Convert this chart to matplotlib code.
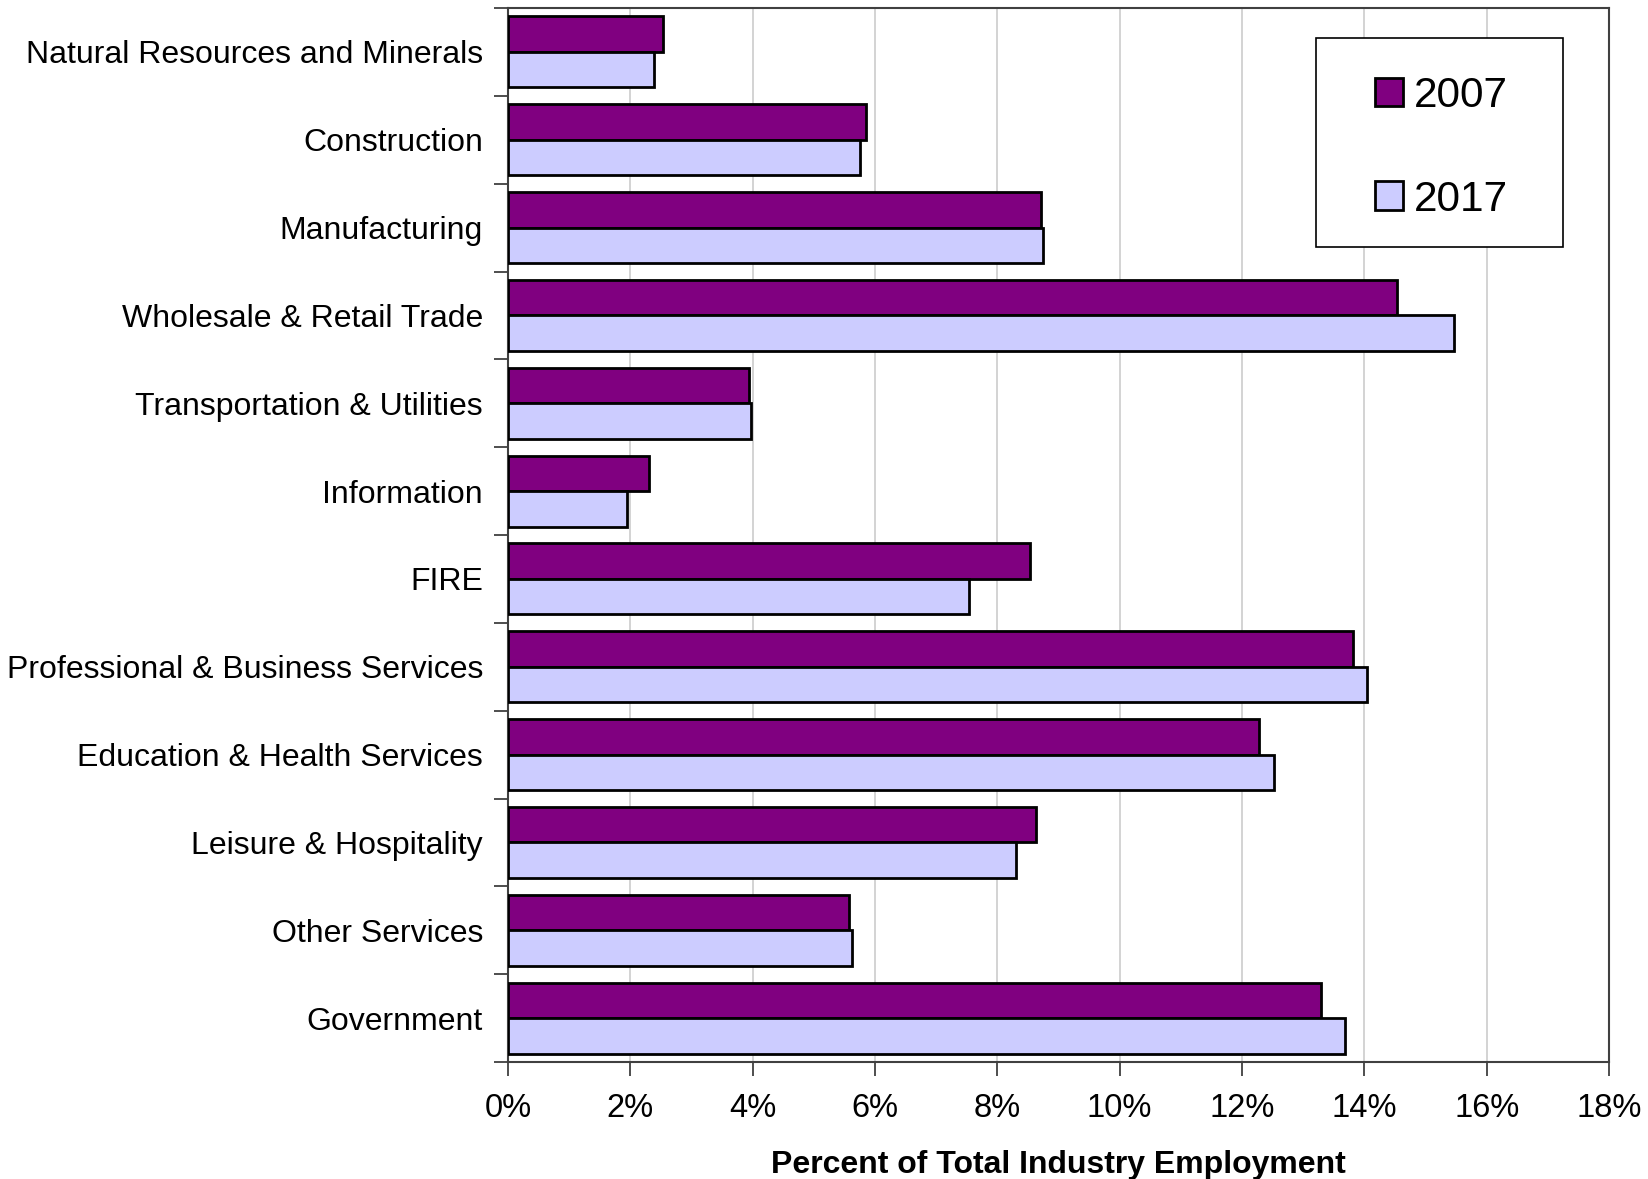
import numpy as np
import matplotlib
matplotlib.use('Agg')
import matplotlib.pyplot as plt
from matplotlib.patches import Patch, Rectangle

plt.rcParams['font.family'] = ['Liberation Sans', 'DejaVu Sans']

# Data (percent of total industry employment)
industries = [
    'Natural Resources and Minerals', 'Construction', 'Manufacturing',
    'Wholesale & Retail Trade', 'Transportation & Utilities', 'Information',
    'FIRE', 'Professional & Business Services', 'Education & Health Services',
    'Leisure & Hospitality', 'Other Services', 'Government',
]
share_2007 = [2.53, 5.85, 8.71, 14.54, 3.94, 2.31, 8.54, 13.82, 12.27, 8.64, 5.58, 13.29]
share_2017 = [2.39, 5.75, 8.74, 15.46, 3.98, 1.94, 7.54, 14.04, 12.53, 8.31, 5.63, 13.68]
series_labels = ['2007', '2017']
x_ticks = [0, 2, 4, 6, 8, 10, 12, 14, 16, 18]

COL_2007 = '#800080'
COL_2017 = '#CCCCFF'
FRAME = '#404040'

W, H = 1648, 1179
fig = plt.figure(figsize=(W / 100, H / 100), dpi=100)
ax = fig.add_axes([508 / W, 1 - 1062 / H, (1609 - 508) / W, (1062 - 8) / H])

y = np.arange(len(industries))
bh = 0.404
ax.barh(y - bh / 2, share_2007, height=bh, color=COL_2007, edgecolor='black',
        linewidth=2, zorder=3)
ax.barh(y + bh / 2, share_2017, height=bh, color=COL_2017, edgecolor='black',
        linewidth=2, zorder=3)

ax.set_ylim(len(industries) - 0.5, -0.5)
ax.set_xlim(0, 18)

# category labels at centers, tick marks at boundaries
ax.set_yticks(y)
ax.set_yticklabels(industries, fontsize=23)
ax.tick_params(axis='y', which='major', length=0, pad=18)
ax.set_yticks(np.arange(len(industries) + 1) - 0.5, minor=True)
ax.tick_params(axis='y', which='minor', length=10, width=1.3, color=FRAME,
               direction='out')

ax.set_xticks(x_ticks)
ax.set_xticklabels([f'{v}%' for v in x_ticks], fontsize=23.5)
ax.tick_params(axis='x', length=10, width=1.3, color=FRAME, pad=12)

ax.grid(axis='x', color='#d0d0d0', linewidth=1.3, zorder=0)
ax.set_axisbelow(True)
for s in ax.spines.values():
    s.set_color(FRAME)
    s.set_linewidth(1.5)

ax.set_xlabel('Percent of Total Industry Employment', fontsize=23,
              fontweight='bold', labelpad=19)

# legend box
fig.add_artist(Rectangle((1316 / W, 1 - 247 / H), (1563 - 1316) / W, (247 - 38) / H,
                         transform=fig.transFigure, facecolor='white',
                         edgecolor='black', linewidth=1.2, zorder=5))
handles = [Patch(facecolor=COL_2007, edgecolor='black', linewidth=2),
           Patch(facecolor=COL_2017, edgecolor='black', linewidth=2)]
leg = fig.legend(handles, series_labels, loc='upper left',
                 bbox_to_anchor=(1375 / W, 1 - 76 / H), fontsize=30.5,
                 frameon=False, handlelength=0.66, handleheight=0.66,
                 handletextpad=0.25, labelspacing=1.5, borderpad=0,
                 borderaxespad=0)
leg.set_zorder(6)

fig.savefig('out.png', dpi=100, facecolor='white')
